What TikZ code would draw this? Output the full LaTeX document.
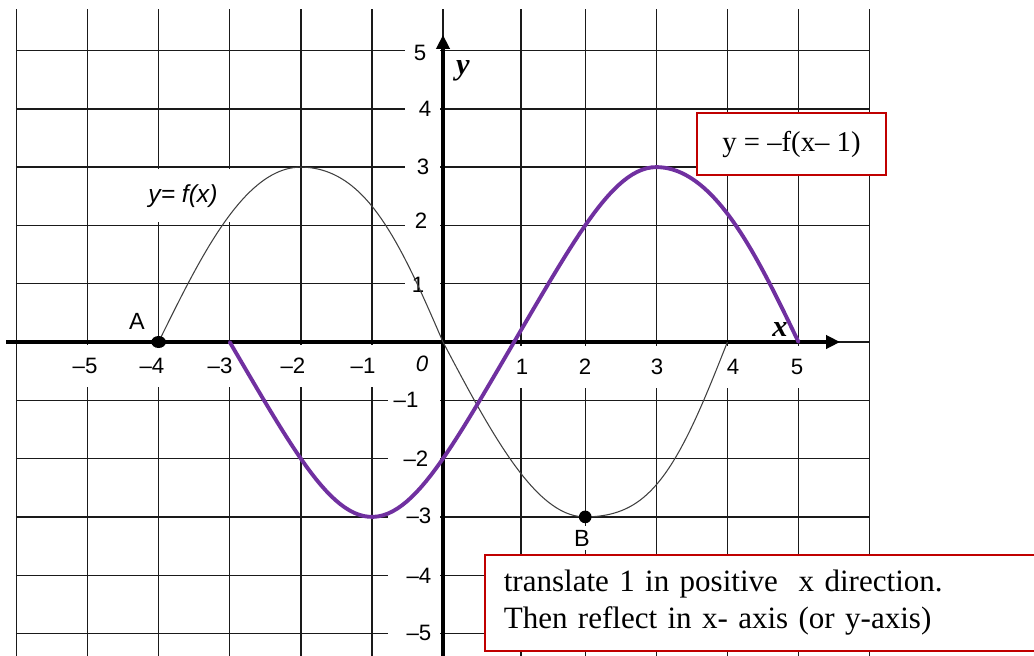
\documentclass[tikz,border=0pt]{standalone}
\usepackage{fontspec}
\setmainfont{Liberation Serif}
\setsansfont{Liberation Sans}
\usetikzlibrary{arrows.meta,shapes.geometric}
\definecolor{gridc}{HTML}{1A1A1A}
\definecolor{curvec}{HTML}{404040}
\definecolor{purp}{HTML}{7030A0}
\definecolor{boxred}{HTML}{C00000}
\begin{document}
\begin{tikzpicture}[x=2.133cm,y=1.749cm,
  gridline/.style={line width=1.2pt,draw=gridc},
  axisline/.style={line width=2.6pt,draw=black,-{Triangle[length=0.42cm,width=0.4cm]}},
  numlab/.style={font=\sffamily\fontsize{19}{21}\selectfont,inner sep=1pt,text=black},
  xnum/.style={numlab,fill=white,minimum height=1.25cm,inner xsep=3pt},
  ptlab/.style={font=\sffamily\fontsize{20}{22}\selectfont,inner sep=1pt},
  axlab/.style={font=\rmfamily\bfseries\itshape\fontsize{26}{28}\selectfont,inner sep=0pt},
  fcurve/.style={line width=0.9pt,draw=curvec},
  gcurve/.style={line width=3.3pt,draw=purp,line cap=round},
  dotpt/.style={fill=black,inner sep=0pt},
  redbox/.style={draw=boxred,line width=1.3pt,fill=white},
]
\useasboundingbox (-6.2307,-5.3688) rectangle (8.3122,5.8662);
\fill[white] (-6.2307,-5.3688) rectangle (8.3122,5.8662);

% grid
\foreach \gx in {-6,-5,-4,-3,-2,-1,0,1.097,2,3,4,5,6}
  \draw[gridline] (\gx,-5.45) -- (\gx,5.712);
\foreach \gy in {-5,-4,-3,-2,-1,1,2,3,4,5}
  \draw[gridline] (-6.006,\gy) -- (5.99,\gy);
\draw[gridline] (-6.006,0) -- (5.99,0);

% white gaps behind y-axis labels
\foreach \gy in {1,2,3,4,5}
  \fill[white] (-0.534,\gy-0.17) rectangle (-0.042,\gy+0.17);
\foreach \gy in {-1,-2,-3,-4,-5}
  \fill[white] (-0.774,\gy-0.17) rectangle (-0.042,\gy+0.17);
% white gap behind curve label
\fill[white] (-4.332,2.058) rectangle (-2.911,2.967);

% x-axis numbers
\node[xnum] (xm5) at (-5.035,-0.41) {–5};
\node[xnum] (xm4) at (-4.093,-0.41) {–4};
\node[xnum] (xm3) at (-3.136,-0.41) {–3};
\node[xnum] (xm2) at (-2.110,-0.41) {–2};
\node[xnum] (xm1) at (-1.125,-0.41) {–1};
\node[numlab,font=\sffamily\itshape\fontsize{19}{21}\selectfont] (x0) at (-0.295,-0.37) {0};
\node[xnum] (xp1) at (1.111,-0.43) {1};
\node[xnum] (xp2) at (1.997,-0.43) {2};
\node[xnum] (xp3) at (3.010,-0.43) {3};
\node[xnum] (xp4) at (4.079,-0.43) {4};
\node[xnum] (xp5) at (4.979,-0.43) {5};

% y-axis numbers
\node[numlab] (yp5) at (-0.323,4.957) {5};
\node[numlab] (yp4) at (-0.253,3.997) {4};
\node[numlab] (yp3) at (-0.281,3.002) {3};
\node[numlab] (yp2) at (-0.309,2.075) {2};
\node[numlab] (yp1) at (-0.352,0.978) {1};
\node[numlab] (ym1) at (-0.520,-0.995) {–1};
\node[numlab] (ym2) at (-0.380,-2.007) {–2};
\node[numlab] (ym3) at (-0.338,-2.985) {–3};
\node[numlab] (ym4) at (-0.338,-4.014) {–4};
\node[numlab] (ym5) at (-0.338,-4.991) {–5};

% axes
\draw[axisline] (-6.146,0) -- (5.584,0);
\draw[axisline] (0,-5.45) -- (0,5.266);
\node[axlab] (ylab) at (0.281,4.65) {y};
\node[axlab] (xlab) at (4.74,0.22) {x};

% y = f(x)
\node[font=\sffamily\itshape\fontsize{21}{24}\selectfont,inner sep=1pt] (flab) at (-3.657,2.504) {y= f(x)};
\draw[fcurve]
  plot[domain=-4:-2,samples=40] (\x,{-(3.04*sin(45*\x)+0.04*sin(135*\x))})
  -- plot[domain=-2:0,samples=40] (\x,{-(3.148*sin(45*\x)+0.148*sin(135*\x))})
  -- plot[domain=0:2,samples=40] (\x,{-(2.985*sin(45*\x)-0.015*sin(135*\x))})
  -- plot[domain=2:4,samples=40] (\x,{-(3.232*sin(45*\x)+0.232*sin(135*\x))});

% y = -f(x-1)
\draw[gcurve]
  plot[domain=-3:3,samples=90] (\x,{2.914*sin(45*(\x-1))-0.086*sin(135*(\x-1))})
  -- plot[domain=3:5,samples=40] (\x,{3.056*sin(45*(\x-1))+0.056*sin(135*(\x-1))});

% points
\node[dotpt,ellipse,minimum width=0.44cm,minimum height=0.36cm] (A) at (-4,0) {};
\node[dotpt,circle,minimum size=0.38cm] (B) at (2,-3) {};
\node[ptlab] (Alab) at (-4.304,0.36) {A};
\node[ptlab,fill=white,inner ysep=3pt] (Blab) at (1.955,-3.362) {B};

% boxes
\node[redbox,minimum width=5.67cm,minimum height=1.86cm,font=\rmfamily\fontsize{24.5}{28}\selectfont] (eq) at (4.902,3.396) {y = –f(x– 1)};
\node[redbox,anchor=north west,minimum width=16.9cm,minimum height=2.88cm,
  text width=15.76cm,inner xsep=0.57cm,align=left,
  font=\rmfamily\fontsize{26.5}{31.5}\selectfont] (note) at (0.577,-3.636)
  {translate 1 in positive\ \ x direction.\\Then reflect in x- axis (or y-axis)};
\end{tikzpicture}
\end{document}
